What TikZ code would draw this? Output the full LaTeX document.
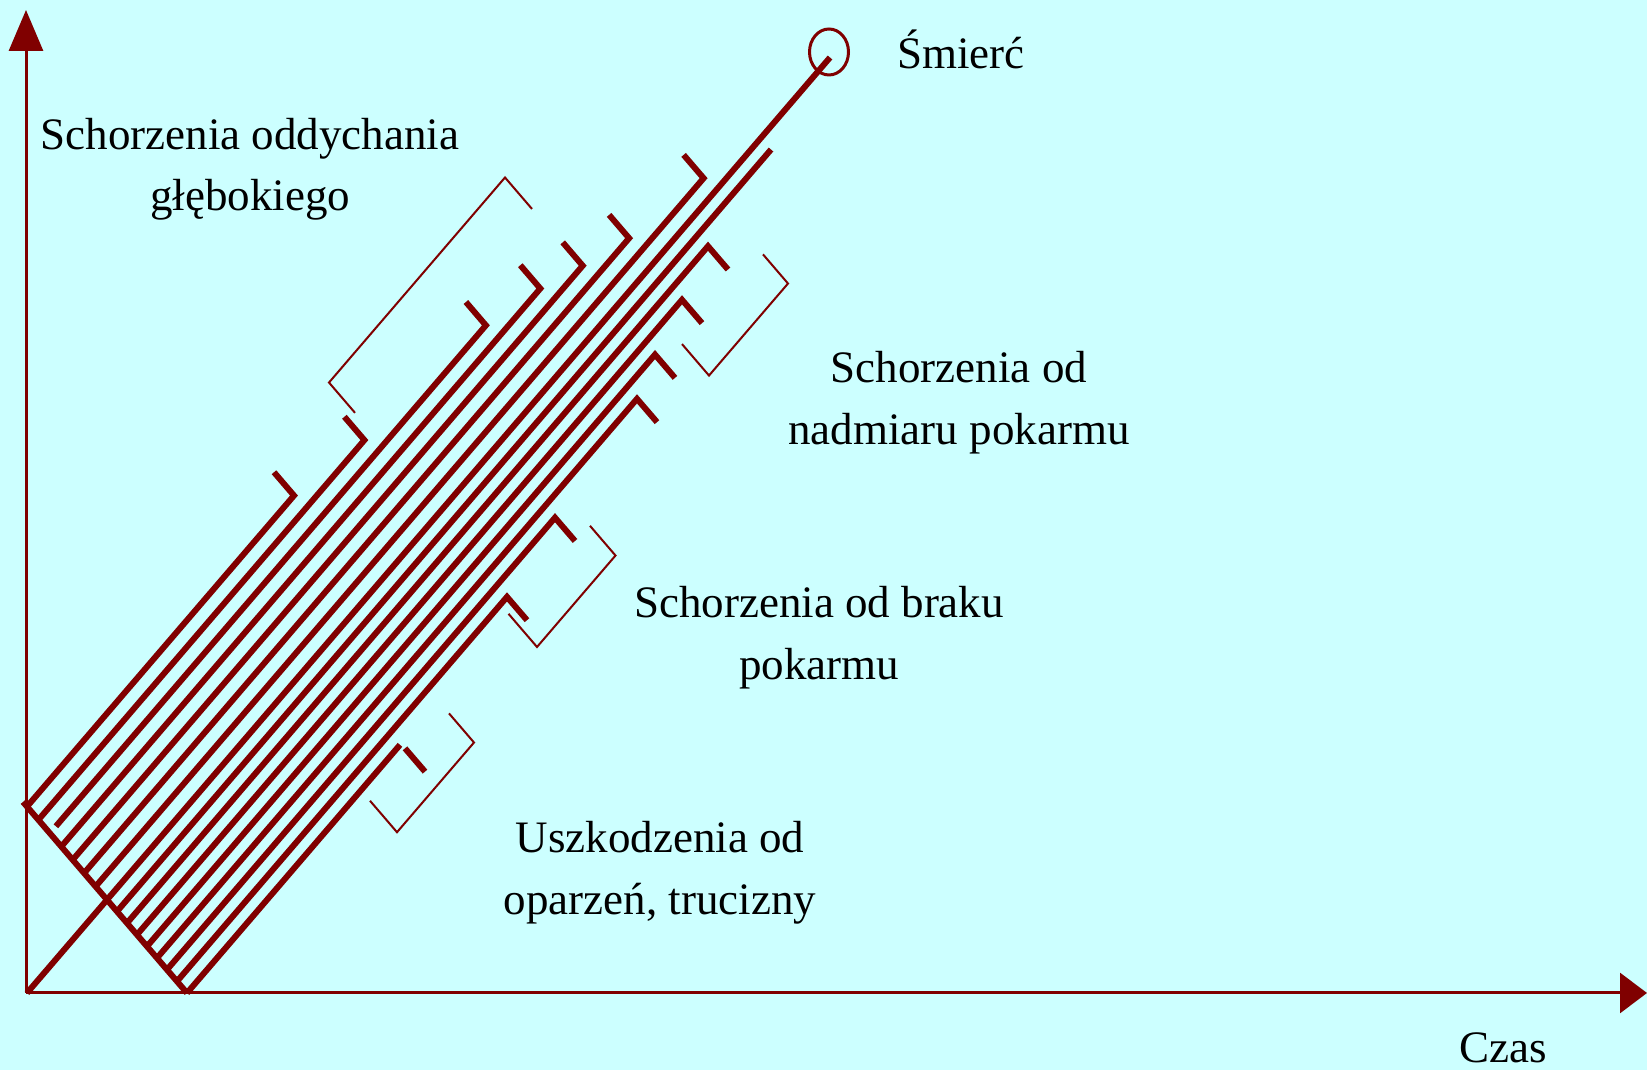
\documentclass[tikz,border=0pt]{standalone}
\usepackage{fontspec}
\setmainfont{Liberation Serif}
\usetikzlibrary{arrows.meta,shapes.geometric}
\definecolor{bgc}{HTML}{CCFFFF}
\definecolor{dred}{HTML}{800000}
\begin{document}
\begin{tikzpicture}[x=1pt,y=1pt,
  thickline/.style={draw=dred,line width=6pt,line join=miter},
  thinline/.style={draw=dred,line width=2pt,line join=miter},
  axisline/.style={draw=dred,line width=3pt},
  lbl/.style={font=\fontsize{45}{54}\selectfont,anchor=base,inner sep=0pt,text=black}]
\fill[bgc] (0,0) rectangle (1647,1070);
\useasboundingbox (0,0) rectangle (1647,1070);
% axes
\coordinate (O) at (26,77);
\coordinate (Ytop) at (26,1060);
\coordinate (Xend) at (1647,77);
\draw[axisline,-{Triangle[length=41pt,width=34pt]}] (O) -- (Ytop);
\draw[axisline,-{Triangle[length=27pt,width=40pt]}] (O) -- (Xend);
% slanted frame: first coordinate along the lines, second across them
\begin{scope}[shift={(27,77)}, x={(1pt,1.165pt)}, y={(1pt,-1.165pt)}]
  % main line to death
  \draw[thickline] (0,0) -- (803,0);
  % cross line
  \draw[thickline] (80,-84) -- (80,80);
  % upper group, hooks towards upper left
  \foreach \t/\s in {-80/347, -68.6/406, -45.7/559, -34.3/590, -22.9/625, -11.4/688}
    \draw[thickline] (\s,\t-20) -- (\s,\t) -- (80,\t);
  \draw[thickline] (516,-77.1) -- (516,-57.1) -- (86,-57.1);
  % line without hook
  \draw[thickline] (80,10) -- (734,10);
  % lower group, hooks towards lower right
  \foreach \t/\s in {20/661, 30/625, 40/588, 50/560, 60/468, 70/410}
    \draw[thickline] (80,\t) -- (\s,\t) -- (\s,\t+20);
  \draw[thickline] (80,80) -- (293,80);
  \draw[thickline] (294,84) -- (294,104);
  % brackets
  \draw[thinline] (589,-84) -- (589,-111) -- (413,-111) -- (413,-85);
  \draw[thinline] (685,51) -- (685,76) -- (606,76) -- (606,49);
  \draw[thinline] (482,81) -- (482,106.5) -- (403.5,106.5) -- (403.5,78);
  \draw[thinline] (331,91) -- (331,116) -- (254,116) -- (254,89);
\end{scope}
% death circle
\node[draw=dred,line width=3pt,ellipse,minimum width=39pt,minimum height=46pt,inner sep=0pt] (death) at (829,1018) {};
% labels
\node[lbl] (smierc) at (961,1001) {Śmierć};
\node[lbl] (oddA) at (250,920) {Schorzenia oddychania};
\node[lbl] (oddB) at (250,859) {głębokiego};
\node[lbl] (nadA) at (959,687) {Schorzenia od};
\node[lbl] (nadB) at (959,625) {nadmiaru pokarmu};
\node[lbl] (brakA) at (819,452) {Schorzenia od braku};
\node[lbl] (brakB) at (819,390) {pokarmu};
\node[lbl] (uszA) at (660,217) {Uszkodzenia od};
\node[lbl] (uszB) at (660,155) {oparzeń, trucizny};
\node[lbl] (czas) at (1503,7) {Czas};
\end{tikzpicture}
\end{document}
